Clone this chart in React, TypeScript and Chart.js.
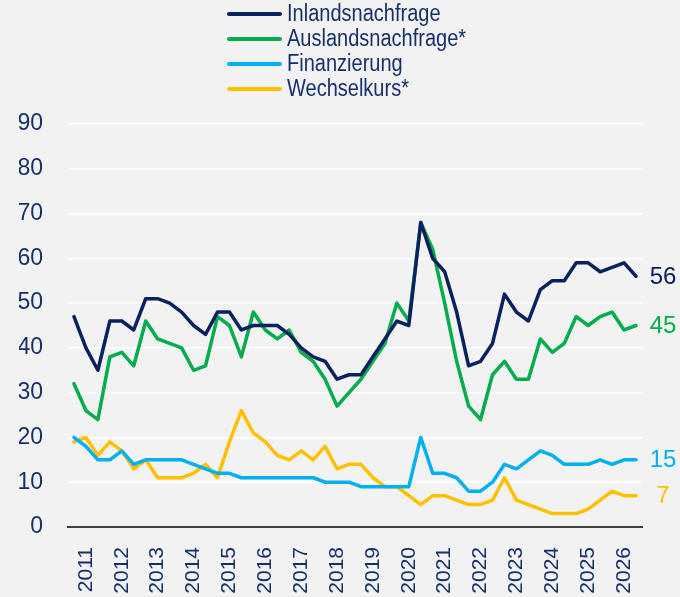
import React, { useEffect, useRef } from 'react';
import { Chart, registerables } from 'chart.js';

Chart.register(...registerables);

// ---- Data ----
const years = [2011, 2012, 2013, 2014, 2015, 2016, 2017, 2018, 2019, 2020, 2021, 2022, 2023, 2024, 2025, 2026];
const surveysPerYear = ['Jahresbeginn', 'Frühsommer', 'Herbst'];

const inlandsnachfrage = [
  47, 40, 35, 46, 46, 44, 51, 51, 50, 48, 45, 43,
  48, 48, 44, 45, 45, 45, 43, 40, 38, 37, 33, 34,
  34, 38, 42, 46, 45, 68, 60, 57, 48, 36, 37, 41,
  52, 48, 46, 53, 55, 55, 59, 59, 57, 58, 59, 56,
];
const auslandsnachfrage = [
  32, 26, 24, 38, 39, 36, 46, 42, 41, 40, 35, 36,
  47, 45, 38, 48, 44, 42, 44, 39, 37, 33, 27, 30,
  33, 37, 41, 50, 46, 68, 62, 50, 37, 27, 24, 34,
  37, 33, 33, 42, 39, 41, 47, 45, 47, 48, 44, 45,
];
const finanzierung = [
  20, 18, 15, 15, 17, 14, 15, 15, 15, 15, 14, 13,
  12, 12, 11, 11, 11, 11, 11, 11, 11, 10, 10, 10,
  9, 9, 9, 9, 9, 20, 12, 12, 11, 8, 8, 10,
  14, 13, 15, 17, 16, 14, 14, 14, 15, 14, 15, 15,
];
const wechselkurs = [
  19, 20, 16, 19, 17, 13, 15, 11, 11, 11, 12, 14,
  11, 19, 26, 21, 19, 16, 15, 17, 15, 18, 13, 14,
  14, 11, 9, 9, 7, 5, 7, 7, 6, 5, 5, 6,
  11, 6, 5, 4, 3, 3, 3, 4, 6, 8, 7, 7,
];

const seriesNames = ['Inlandsnachfrage', 'Auslandsnachfrage*', 'Finanzierung', 'Wechselkurs*'];
const seriesColors = ['#0a2160', '#00ad4d', '#00b0f0', '#ffc000'];
const yTickValues = [0, 10, 20, 30, 40, 50, 60, 70, 80, 90];

const categories = years.flatMap((y) => surveysPerYear.map((s) => `${s} ${y}`));

const TEXT = '#16306a';
const FONT = '"Liberation Sans", Arial, sans-serif';

const stackedLegend = {
  id: 'stackedLegend',
  afterDraw(chart: any) {
    const ctx = chart.ctx;
    ctx.save();
    chart.data.datasets.forEach((ds: any, i: number) => {
      const y = 14 + i * 25;
      ctx.strokeStyle = ds.borderColor;
      ctx.lineWidth = 4;
      ctx.lineCap = 'round';
      ctx.beginPath();
      ctx.moveTo(229, y);
      ctx.lineTo(280, y);
      ctx.stroke();
      ctx.save();
      ctx.translate(287, y + 1);
      ctx.scale(0.87, 1);
      ctx.fillStyle = TEXT;
      ctx.font = `23px ${FONT}`;
      ctx.textAlign = 'left';
      ctx.textBaseline = 'middle';
      ctx.fillText(ds.label, 0, 0);
      ctx.restore();
    });
    ctx.restore();
  },
};

const endLabels = {
  id: 'endLabels',
  afterDatasetsDraw(chart: any) {
    const ctx = chart.ctx;
    ctx.save();
    chart.data.datasets.forEach((ds: any, i: number) => {
      const meta = chart.getDatasetMeta(i);
      const pt = meta.data[meta.data.length - 1];
      const v = ds.data[ds.data.length - 1];
      ctx.fillStyle = ds.borderColor;
      ctx.font = `24px ${FONT}`;
      ctx.textAlign = 'center';
      ctx.textBaseline = 'middle';
      ctx.fillText(String(v), pt.x + 27, pt.y + 1);
    });
    ctx.restore();
  },
};

export default function App() {
  const ref = useRef<HTMLCanvasElement | null>(null);

  useEffect(() => {
    if (!ref.current) return;
    const all = [inlandsnachfrage, auslandsnachfrage, finanzierung, wechselkurs];
    const chart = new Chart(ref.current, {
      type: 'line',
      data: {
        labels: categories,
        datasets: all.map((d, i) => ({
          label: seriesNames[i],
          data: d,
          borderColor: seriesColors[i],
          backgroundColor: seriesColors[i],
          borderWidth: 3.5,
          pointRadius: 0,
          tension: 0,
          fill: false,
          borderJoinStyle: 'round' as const,
          borderCapStyle: 'round' as const,
        })),
      },
      options: {
        animation: false,
        responsive: false,
        maintainAspectRatio: false,
        layout: { padding: { top: 124, left: 19, right: 38, bottom: 0 } },
        plugins: { legend: { display: false }, tooltip: { enabled: false } },
        scales: {
          x: {
            offset: true,
            grid: { display: false, drawTicks: false },
            border: { display: true, color: '#404040', width: 2 },
            ticks: {
              autoSkip: false,
              maxRotation: 90,
              minRotation: 90,
              padding: 20,
              color: TEXT,
              font: { size: 21, family: FONT },
              callback: (_v: any, i: number) => (i % 3 === 1 ? String(years[(i - 1) / 3]) : ''),
            },
            afterFit: (scale: any) => {
              scale.height = 70;
              scale.paddingLeft = 0;
              scale.paddingRight = 0;
            },
          },
          y: {
            min: yTickValues[0],
            max: yTickValues[yTickValues.length - 1],
            afterBuildTicks: (scale: any) => {
              scale.ticks = yTickValues.map((v) => ({ value: v }));
            },
            grid: {
              color: (c: any) => (c.tick && c.tick.value === 0 ? 'rgba(0,0,0,0)' : '#ffffff'),
              lineWidth: 1.5,
              drawTicks: false,
            },
            border: { display: false },
            ticks: { padding: 25, color: TEXT, font: { size: 23, family: FONT } },
            afterFit: (scale: any) => {
              scale.width = 49;
              scale.paddingTop = 0;
              scale.paddingBottom = 0;
            },
          },
        },
      },
      plugins: [stackedLegend, endLabels],
    });
    return () => chart.destroy();
  }, []);

  return (
    <div style={{ position: 'fixed', left: 0, top: 0, width: 680, height: 597, background: '#f2f2f2' }}>
      <canvas ref={ref} width={680} height={597} style={{ display: 'block' }} />
    </div>
  );
}
